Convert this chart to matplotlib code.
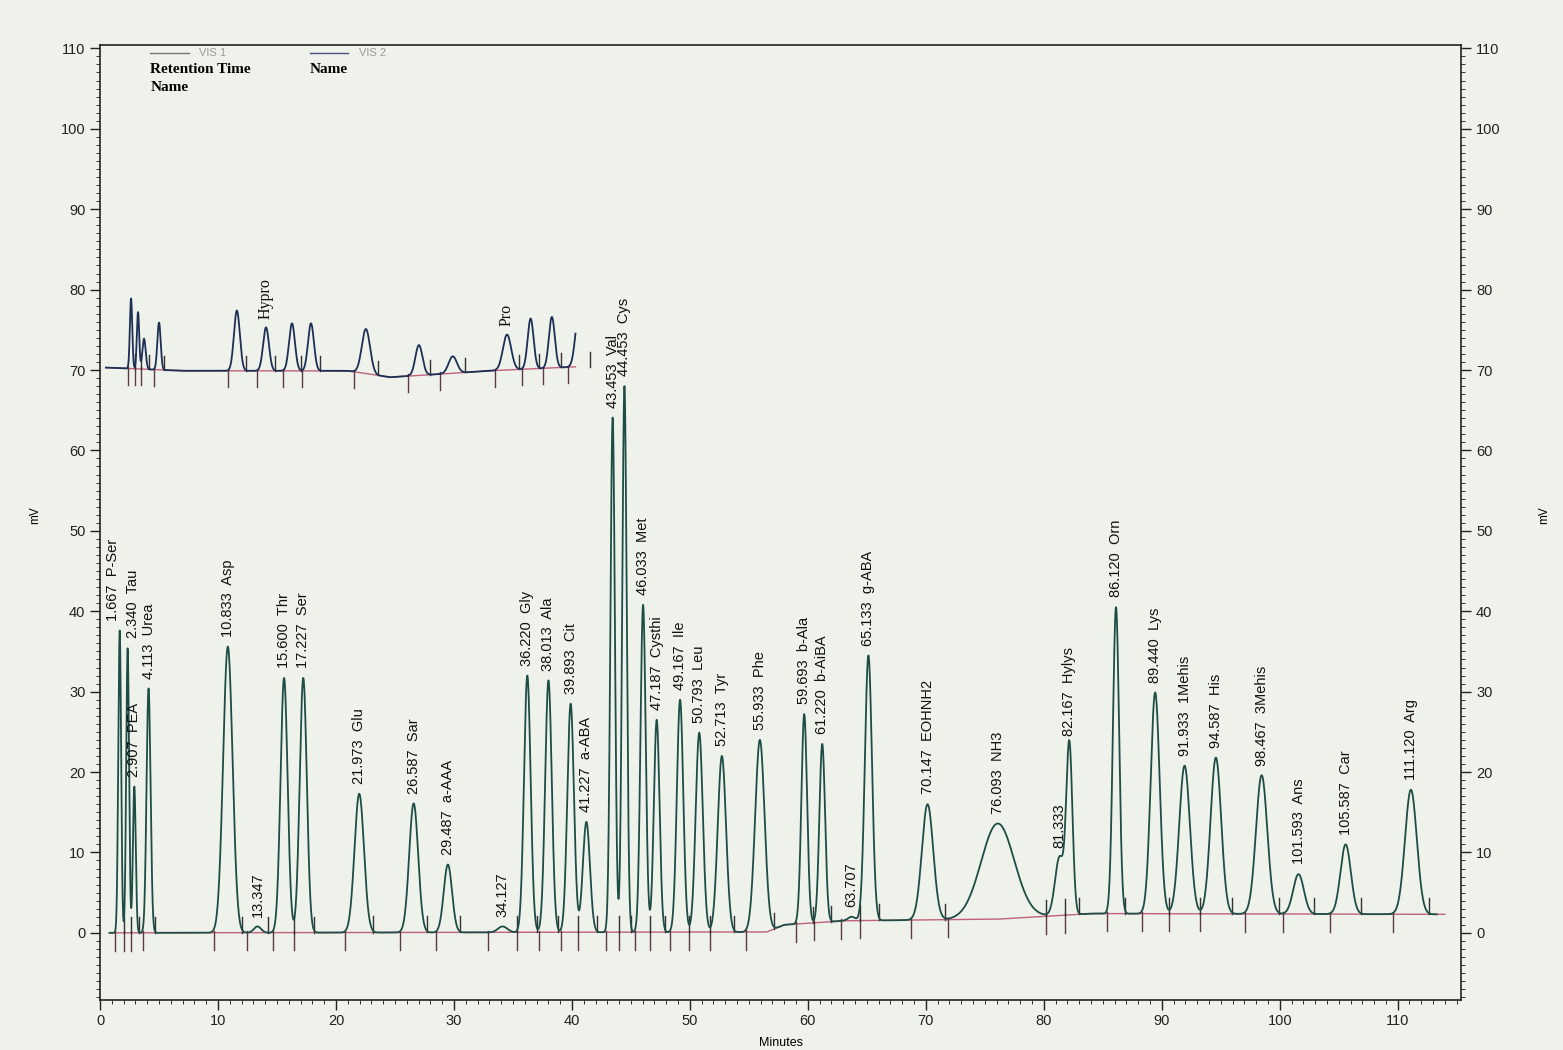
import numpy as np
import matplotlib
matplotlib.use("Agg")
import matplotlib.pyplot as plt
from matplotlib.ticker import MultipleLocator
from matplotlib.lines import Line2D

# ---- VIS 1 channel: retention time (min), peak name, apex (mV), width sigma (min)
rt1 = [1.667, 2.340, 2.907, 4.113, 10.833, 13.347, 15.600, 17.227, 21.973, 26.587,
       29.487, 34.127, 36.220, 38.013, 39.893, 41.227, 43.453, 44.453, 46.033, 47.187,
       49.167, 50.793, 52.713, 55.933, 59.693, 61.220, 63.707, 65.133, 70.147, 76.093,
       81.333, 82.167, 86.120, 89.440, 91.933, 94.587, 98.467, 101.593, 105.587, 111.120]
name1 = ["P-Ser", "Tau", "PEA", "Urea", "Asp", "", "Thr", "Ser", "Glu", "Sar",
         "a-AAA", "", "Gly", "Ala", "Cit", "a-ABA", "Val", "Cys", "Met", "Cysthi",
         "Ile", "Leu", "Tyr", "Phe", "b-Ala", "b-AiBA", "", "g-ABA", "EOHNH2", "NH3",
         "", "Hylys", "Orn", "Lys", "1Mehis", "His", "3Mehis", "Ans", "Car", "Arg"]
apex1 = [37.6, 35.4, 18.2, 30.4, 35.6, 0.8, 31.7, 31.7, 17.3, 16.1,
         8.5, 0.8, 32.0, 31.4, 28.5, 13.8, 64.1, 68.0, 40.8, 26.5,
         29.0, 24.9, 22.0, 24.0, 27.2, 23.5, 2.0, 34.5, 16.0, 13.6,
         9.4, 23.3, 40.5, 29.9, 20.8, 21.8, 19.6, 7.3, 11.0, 17.8]
sigma1 = [0.12, 0.12, 0.12, 0.17, 0.40, 0.30, 0.30, 0.30, 0.40, 0.38,
          0.35, 0.40, 0.28, 0.28, 0.28, 0.30, 0.19, 0.19, 0.22, 0.24,
          0.27, 0.30, 0.35, 0.40, 0.24, 0.24, 0.30, 0.30, 0.48, 1.40,
          0.38, 0.26, 0.26, 0.38, 0.45, 0.45, 0.48, 0.45, 0.44, 0.50]
# drifting VIS 1 baseline (min, mV)
base1_t = [0.0, 56.5, 58.0, 63.0, 76.0, 84.0, 115.0]
base1_v = [0.0, 0.1, 1.0, 1.5, 1.7, 2.4, 2.3]

# ---- VIS 2 channel
rt2 = [2.63, 3.22, 3.73, 5.00, 11.60, 14.07, 16.27, 17.88, 22.54, 27.03,
       29.90, 34.50, 36.50, 38.30, 40.60]
name2 = ["", "", "", "", "", "Hypro", "", "", "", "",
         "", "Pro", "", "", ""]
apex2 = [78.9, 77.2, 73.9, 75.9, 77.4, 75.3, 75.8, 75.8, 75.1, 73.1,
         71.7, 74.4, 76.4, 76.6, 77.2]
sigma2 = [0.10, 0.10, 0.14, 0.14, 0.25, 0.25, 0.25, 0.25, 0.35, 0.30,
          0.35, 0.35, 0.25, 0.25, 0.30]
base2_t = [0.5, 7.0, 21.0, 24.6, 33.0, 40.3]
base2_v = [70.3, 69.9, 69.9, 69.1, 69.9, 70.4]

TRACE = "#1e4d46"
BASE_RED = "#c0627c"
BG = "#eff1eb"


def trace(t, rts, apexes, sigmas, bt, bv):
    base = np.interp(t, bt, bv)
    y = base.copy()
    for r, a, s in zip(rts, apexes, sigmas):
        amp = a - np.interp(r, bt, bv)
        y += amp * np.exp(-0.5 * ((t - r) / s) ** 2)
    return base, y


def bounds(rts, sigmas):
    starts, ends = [], []
    for i, (r, s) in enumerate(zip(rts, sigmas)):
        st, en = r - 3.0 * s, r + 3.0 * s
        if i > 0:
            pr, ps = rts[i - 1], sigmas[i - 1]
            st = max(st, pr + (r - pr) * ps / (ps + s))
        if i < len(rts) - 1:
            nr, ns = rts[i + 1], sigmas[i + 1]
            en = min(en, r + (nr - r) * s / (s + ns))
        starts.append(st)
        ends.append(en)
    return starts, ends


fig = plt.figure(figsize=(15.63, 10.5), dpi=100, facecolor=BG)
ax = fig.add_axes([0.064, 0.048, 0.871, 0.909])
ax.set_facecolor(BG)

# VIS 1
t1 = np.linspace(0.8, 113.3, 14000)
b1, y1 = trace(t1, rt1, apex1, sigma1, base1_t, base1_v)
tb = np.linspace(0.8, 114.0, 2000)
ax.plot(tb, np.interp(tb, base1_t, base1_v), color=BASE_RED, lw=1.0, zorder=2)
ax.plot(t1, y1, color=TRACE, lw=1.3, zorder=3)
st1, en1 = bounds(rt1, sigma1)
for s in st1:
    b = np.interp(s, base1_t, base1_v)
    ax.plot([s, s], [b - 2.2, b + 0.2], color="#5b3a46", lw=1.0, zorder=2)
for e in en1:
    b = np.interp(e, base1_t, base1_v)
    ax.plot([e, e], [b, b + 2.0], color="#333333", lw=1.0, zorder=2)

# VIS 2
t2 = np.linspace(0.5, 40.3, 5000)
b2, y2 = trace(t2, rt2, apex2, sigma2, base2_t, base2_v)
ax.plot(t2, b2, color=BASE_RED, lw=1.0, zorder=2)
ax.plot(t2, y2, color="#1c2f55", lw=1.3, zorder=3)
st2, en2 = bounds(rt2, sigma2)
for s in st2:
    b = np.interp(s, base2_t, base2_v)
    ax.plot([s, s], [b - 2.0, b + 0.2], color="#5b3a46", lw=1.0, zorder=2)
for e in en2:
    b = np.interp(e, base2_t, base2_v)
    ax.plot([e, e], [b, b + 1.8], color="#333333", lw=1.0, zorder=2)

# peak annotations; the two earliest labels are nudged apart horizontally
lab_font = dict(family="Liberation Sans", size=10.5)
nudge = {0: -5, 1: 4}
for i, (r, n, a) in enumerate(zip(rt1, name1, apex1)):
    txt = f"{r:.3f}" + (f"  {n}" if n else "")
    ax.annotate(txt, (r, a), xytext=(nudge.get(i, 0), 7), textcoords="offset points",
                rotation=90, ha="center", va="bottom", color="#111111",
                **lab_font, zorder=4)
for r, n, a in zip(rt2, name2, apex2):
    if n:
        ax.annotate(n, (r, a), xytext=(0, 6), textcoords="offset points",
                    rotation=90, ha="center", va="bottom", color="#111111",
                    family="Liberation Serif", size=11.5, zorder=4)

# axes styling
ax.set_xlim(0, 115.4)
ax.set_ylim(-8.3, 110.4)
ax.xaxis.set_major_locator(MultipleLocator(10))
ax.xaxis.set_minor_locator(MultipleLocator(1))
ax.yaxis.set_major_locator(MultipleLocator(10))
ax.yaxis.set_minor_locator(MultipleLocator(1))
ax.set_yticks(np.arange(0, 111, 10))
ax.yaxis.set_ticks_position("both")
ax.tick_params(axis="both", which="major", direction="out", length=7, width=1.0,
               labelsize=10.5, labelright=True, colors="#222222")
ax.tick_params(axis="both", which="minor", direction="out", length=3, width=0.7,
               colors="#333333")
for lbl in ax.get_xticklabels() + ax.get_yticklabels():
    lbl.set_family("Liberation Sans")
for sp in ax.spines.values():
    sp.set_linewidth(1.2)
    sp.set_color("#222222")

ax.set_xlabel("Minutes", fontsize=9, family="Liberation Sans", labelpad=6)
ax.text(-0.048, 0.508, "mV", transform=ax.transAxes, rotation=90,
        ha="center", va="center", fontsize=8.5, family="Liberation Sans")
ax.text(1.061, 0.508, "mV", transform=ax.transAxes, rotation=90,
        ha="center", va="center", fontsize=8.5, family="Liberation Sans")

# channel key
for x0, lbl in [(0.037, "VIS 1"), (0.154, "VIS 2")]:
    ax.add_line(Line2D([x0, x0 + 0.028], [0.9916, 0.9916], transform=ax.transAxes,
                       color="#777777" if lbl == "VIS 1" else "#4a5580", lw=1.0))
    ax.text(x0 + 0.036, 0.9916, lbl, transform=ax.transAxes, ha="left", va="center",
            fontsize=8, color="#9a9a9a", family="Liberation Sans")
ax.text(0.037, 0.974, "Retention Time", transform=ax.transAxes, ha="left",
        va="center", fontsize=11, weight="bold", family="Liberation Serif")
ax.text(0.037, 0.956, "Name", transform=ax.transAxes, ha="left",
        va="center", fontsize=11, weight="bold", family="Liberation Serif")
ax.text(0.154, 0.974, "Name", transform=ax.transAxes, ha="left",
        va="center", fontsize=11, weight="bold", family="Liberation Serif")

fig.savefig("out.png", dpi=100, facecolor=BG)
